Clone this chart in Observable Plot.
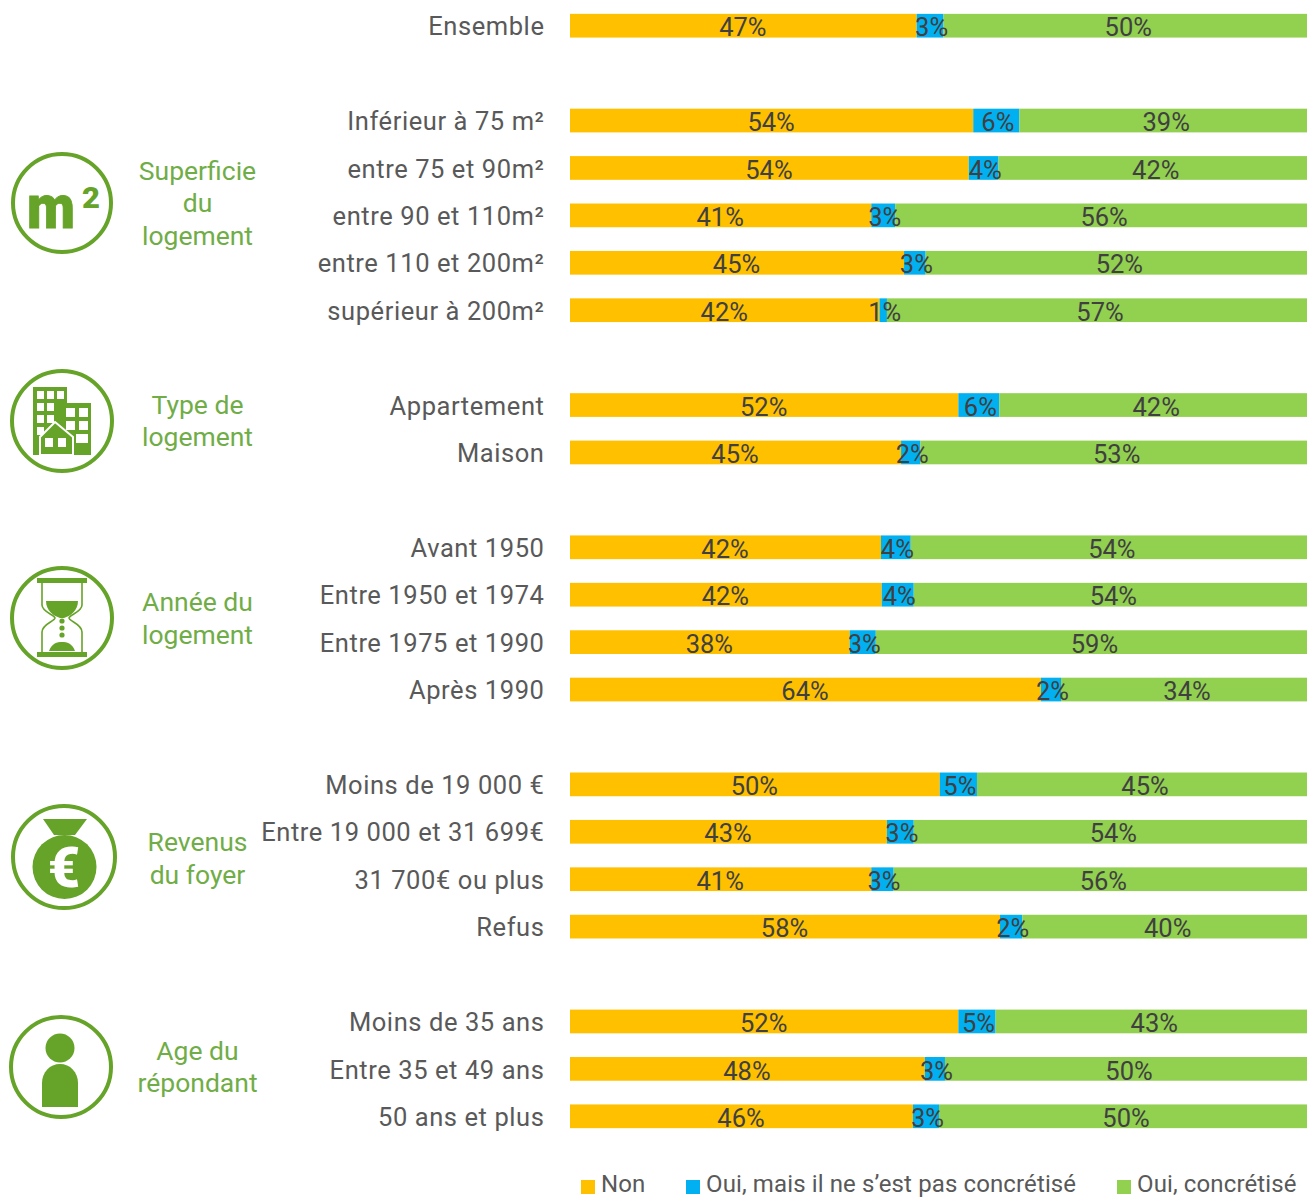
<!DOCTYPE html>
<html lang="fr">
<head>
<meta charset="utf-8">
<script src="https://cdn.jsdelivr.net/npm/d3@7"></script>
<script src="https://cdn.jsdelivr.net/npm/@observablehq/plot@0.6"></script>
<style>
html,body{margin:0;padding:0;background:#fff;overflow:hidden}
#wrap{position:relative;width:1307px;height:1198px;overflow:hidden;font-family:Roboto,sans-serif}
#chart svg{display:block}
#chart g[aria-label="y-axis tick label"] text{letter-spacing:0.58px}
#icons{position:absolute;left:0;top:0}
#legend div{position:absolute;top:1173px;font-size:24px;line-height:22px;color:#595959;white-space:nowrap;letter-spacing:0.12px}
#legend i{position:absolute;top:1180px;width:14px;height:14px;display:block}
</style>
</head>
<body>
<div id="wrap">
<div id="chart"></div>
<svg id="icons" width="270" height="1198" viewBox="0 0 270 1198" aria-hidden="true">
  <g fill="none" stroke="#66A329" stroke-width="4">
    <circle cx="62" cy="203" r="49"/><circle cx="62" cy="421" r="50"/><circle cx="62" cy="618" r="50"/>
    <circle cx="64" cy="857" r="51"/><circle cx="61" cy="1067" r="50"/>
  </g>
  <g fill="#66A329">
    <!-- m² -->
    <text x="27" y="228" font-family="Roboto" font-weight="900" font-size="62" textLength="48" lengthAdjust="spacingAndGlyphs" stroke="#66A329" stroke-width="0.8">m</text>
    <text x="82" y="208" font-family="Roboto" font-weight="900" font-size="29" textLength="18" lengthAdjust="spacingAndGlyphs">2</text>
    <!-- buildings -->
    <path fill-rule="evenodd" d="M33 387H67V403H91V455H33ZM37 391V399H44V391ZM47 391V399H54V391ZM57 391V399H64V391ZM37 403V411H44V403ZM47 403V411H54V403ZM37 415V423H44V415ZM47 415V423H54V415ZM37 427V435H44V427ZM66 408V417H75V408ZM79 408V417H88V408ZM66 421V430H75V421ZM79 421V430H88V421ZM76 434V443H88V434Z"/>
    <path d="M55 422L73 437V455H40V437Z" stroke="#fff" stroke-width="2"/>
    <path d="M45 438H53V447H45ZM58 438H66V447H58Z" fill="#fff"/>
    <!-- hourglass -->
    <rect x="37" y="578" width="50" height="5"/><rect x="37" y="652" width="50" height="5"/>
    <path d="M46 601H78C78 611 70 616 64 618H60C54 616 46 611 46 601Z"/>
    <circle cx="62" cy="621" r="2.6"/><circle cx="62" cy="628" r="2.6"/><circle cx="62" cy="635" r="2.6"/>
    <path d="M49 651C52 643 57 642 62 642C67 642 72 643 75 651Z"/>
    <!-- money bag -->
    <path d="M43 819H87L75 835H54Z"/>
    <circle cx="64.500" cy="867" r="32"/>
    <text x="64" y="887" text-anchor="middle" font-family="Roboto" font-weight="900" font-size="56" fill="#fff">€</text>
    <!-- person -->
    <circle cx="60" cy="1048" r="14.500"/>
    <path d="M42 1107V1083C42 1072 50 1064 60 1064C70 1064 78 1072 78 1083V1107Z"/>
  </g>
  <path d="M42 583V605C42 612 55 615 55 618C55 621 42 624 42 632V652M82 583V605C82 612 69 615 69 618C69 621 82 624 82 632V652" fill="none" stroke="#66A329" stroke-width="1.600"/>
</svg>
<div id="legend">
  <i style="left:581px;background:#FFC000"></i><div style="left:601px">Non</div>
  <i style="left:686px;background:#00B0F0"></i><div style="left:706px">Oui, mais il ne s’est pas concrétisé</div>
  <i style="left:1117px;background:#92D050"></i><div style="left:1137px">Oui, concrétisé</div>
</div>
</div>
<script>
const rows = ["Ensemble","Inférieur à 75 m²","entre 75 et 90m²","entre 90 et 110m²","entre 110 et 200m²","supérieur à 200m²","Appartement","Maison","Avant 1950","Entre 1950 et 1974","Entre 1975 et 1990","Après 1990","Moins de 19 000 €","Entre 19 000 et 31 699€","31 700€ ou plus","Refus","Moins de 35 ans","Entre 35 et 49 ans","50 ans et plus"];
const rowOrder = ["Ensemble","gap1","Inférieur à 75 m²","entre 75 et 90m²","entre 90 et 110m²","entre 110 et 200m²","supérieur à 200m²","gap2","Appartement","Maison","gap3","Avant 1950","Entre 1950 et 1974","Entre 1975 et 1990","Après 1990","gap4","Moins de 19 000 €","Entre 19 000 et 31 699€","31 700€ ou plus","Refus","gap5","Moins de 35 ans","Entre 35 et 49 ans","50 ans et plus"];
const series = ["Non","Oui, mais il ne s’est pas concrétisé","Oui, concrétisé"];
const colors = ["#FFC000","#00B0F0","#92D050"];
const nonValues   = [46.6,54.2,53.6,40.5,44.9,41.6,52.2,44.5,41.8,41.9,37.6,63.3,49.7,42.6,40.5,57.8,52.2,47.7,46.1];
const maisValues  = [3.6,6.2,4.0,3.2,2.9,1.0,5.5,2.6,4.0,4.3,3.5,2.7,5.0,3.6,3.0,3.0,5.0,2.7,3.5];
const ouiValues   = [49.8,39.6,42.4,56.3,52.2,57.4,42.3,52.9,54.2,53.8,58.9,34.0,45.3,53.8,56.5,39.2,42.8,49.6,50.4];
const nonLabels   = [47,54,54,41,45,42,52,45,42,42,38,64,50,43,41,58,52,48,46];
const maisLabels  = [3,6,4,3,3,1,6,2,4,4,3,2,5,3,3,2,5,3,3];
const ouiLabels   = [50,39,42,56,52,57,42,53,54,54,59,34,45,54,56,40,43,50,50];
const groupLabels = ["Superficie\ndu\nlogement","Type de\nlogement","Année du\nlogement","Revenus\ndu foyer","Age du\nrépondant"];
const groupRows   = ["entre 90 et 110m²","Appartement","Entre 1950 et 1974","Entre 19 000 et 31 699€","Entre 35 et 49 ans"];
const groupOffsets = [-14,14,22,25,-4];

const table = rows.flatMap((row,i)=>[
  {row,series:series[0],value:nonValues[i],label:nonLabels[i]},
  {row,series:series[1],value:maisValues[i],label:maisLabels[i]},
  {row,series:series[2],value:ouiValues[i],label:ouiLabels[i]}
]);
const valueText = (dx, keep) => Plot.text(table,Plot.stackX({
  x:"value",y:"row",z:"series",order:null,text:d=>keep(d)?d.label+"%":null,
  fill:"#404040",fontSize:25.500,dy:2,dx
}));

const chart = Plot.plot({
  width:1307, height:1140,
  marginLeft:570, marginRight:0, marginTop:2, marginBottom:0,
  style:{fontFamily:"Roboto, sans-serif",background:"#fff",overflow:"visible"},
  x:{axis:null,domain:[0,99.06]},
  y:{axis:null,domain:rowOrder,paddingInner:0.5,paddingOuter:0.25,round:false},
  color:{domain:series,range:colors},
  marks:[
    Plot.barX(table,Plot.stackX({x:"value",y:"row",z:"series",fill:"series",order:null,clip:true})),
    valueText(-1,d=>d.series!==series[1]),
    valueText(1,d=>d.series===series[1]),
    Plot.axisY({ticks:rows,tickSize:0,tickPadding:26,fontSize:25.500,fill:"#595959",fillOpacity:1,dy:1,label:null,tickFormat:d=>d}),
    ...groupLabels.map((g,i)=>Plot.text([g],{
      text:d=>d,y:()=>groupRows[i],frameAnchor:"left",dx:-373,dy:groupOffsets[i],
      textAnchor:"middle",lineHeight:1.23,fontSize:26.500,fill:"#70AD47"
    }))
  ]
});
document.getElementById("chart").append(chart);
</script>
</body>
</html>
